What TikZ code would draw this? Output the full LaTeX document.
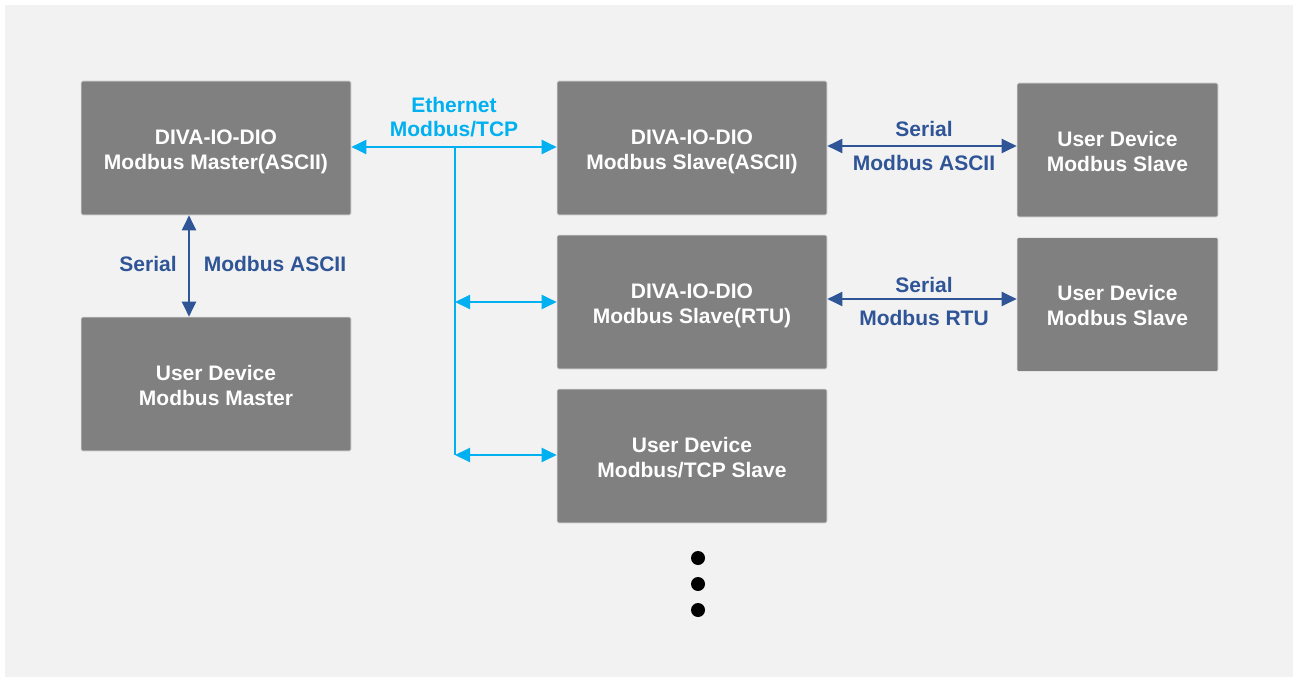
\documentclass[tikz,border=0pt]{standalone}
\usepackage{fontspec}
\setmainfont{Liberation Sans}
\usetikzlibrary{arrows.meta}
\definecolor{bgc}{HTML}{F2F2F2}
\definecolor{boxc}{HTML}{808080}
\definecolor{boxedge}{HTML}{E4E4E4}
\definecolor{eth}{HTML}{00B0F0}
\definecolor{ser}{HTML}{2F5597}
\begin{document}
\begin{tikzpicture}[x=1pt,y=-1pt,
  box/.style={rectangle, fill=boxc, draw=boxedge, line width=0.6pt, rounded corners=1.5pt,
    text=white, font=\fontsize{21}{25}\selectfont\bfseries, align=center, inner sep=0pt,
    minimum width=270pt, minimum height=134pt},
  ubox/.style={box, minimum width=201pt, minimum height=134pt},
  ethline/.style={draw=eth, line width=2pt},
  ethar/.style={ethline, {Triangle[length=15pt,width=14pt]}-{Triangle[length=15pt,width=14pt]}},
  serar/.style={draw=ser, line width=2pt, {Triangle[length=15pt,width=14pt]}-{Triangle[length=15pt,width=14pt]}},
  lab/.style={font=\fontsize{21}{25}\selectfont\bfseries, inner sep=0pt, anchor=base},
  serlab/.style={lab, text=ser},
  ethlab/.style={lab, text=eth},
  dot/.style={fill=black}
]
\useasboundingbox (0,0) rectangle (1298,682);
\fill[white] (0,0) rectangle (1298,682);
\fill[bgc] (5,5) rectangle (1293,677);

% boxes
\node[box] (m)  at (216,148) {\rule{0pt}{23pt}DIVA-IO-DIO\\Modbus Master(ASCII)};
\node[box] (um) at (216,384) {\rule{0pt}{18pt}User Device\\Modbus Master};
\node[box] (sa) at (692,148) {\rule{0pt}{23pt}DIVA-IO-DIO\\Modbus Slave(ASCII)};
\node[box] (sr) at (692,302) {\rule{0pt}{23pt}DIVA-IO-DIO\\Modbus Slave(RTU)};
\node[box] (ut) at (692,456) {\rule{0pt}{18pt}User Device\\Modbus/TCP Slave};
\node[ubox] (u1) at (1117.5,150) {\rule{0pt}{18pt}User Device\\Modbus Slave};
\node[ubox] (u2) at (1117.5,304.5) {\rule{0pt}{18pt}User Device\\Modbus Slave};

% Ethernet
\coordinate (jtop) at (455,147);
\coordinate (jbot) at (455,455);
\draw[ethar] ([yshift=1pt]m.east) -- ([yshift=1pt]sa.west);
\draw[ethline] (jtop) -- (jbot);
\draw[ethar] (jtop |- sr.west) -- (sr.west);
\draw[ethar] (jbot) -- (jbot -| ut.west);
\node[ethlab] (e1) at (454,113) {Ethernet};
\node[ethlab] (e2) at (454,137) {Modbus/TCP};

% Serial links
\draw[serar] ([yshift=2pt]sa.east) -- ([yshift=2pt]sa.east -| u1.west);
\node[serlab] (s1) at (924,137) {Serial};
\node[serlab] (s2) at (924,170) {Modbus ASCII};
\draw[serar] ([yshift=3pt]sr.east) -- ([yshift=3pt]sr.east -| u2.west);
\node[serlab] (s3) at (924,292) {Serial};
\node[serlab] (s4) at (924,325) {Modbus RTU};
\draw[serar] ([xshift=-27pt]m.south) -- ([xshift=-27pt]um.north);
\node[serlab] (s5) at (148,271) {Serial};
\node[serlab] (s6) at (275,271) {Modbus ASCII};

% continuation dots
\fill[dot] (698,558) circle (7);
\fill[dot] (698,584) circle (7);
\fill[dot] (698,610) circle (7);
\end{tikzpicture}
\end{document}
